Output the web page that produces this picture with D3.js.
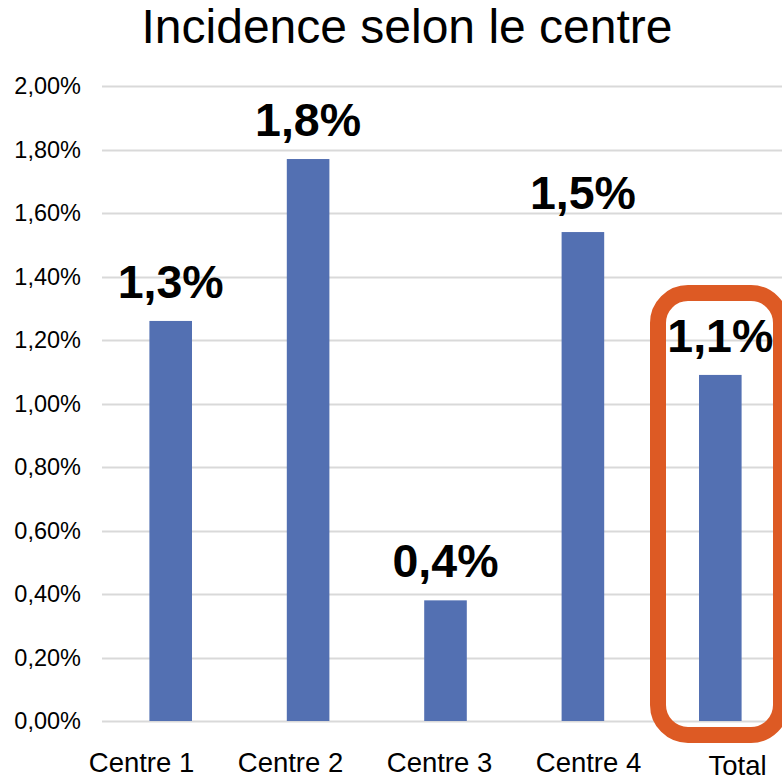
<!DOCTYPE html>
<html>
<head>
<meta charset="utf-8">
<script src="https://cdn.jsdelivr.net/npm/d3@7"></script>
<style>
  body { margin: 0; background: #fff; }
  svg { display: block; font-family: "Liberation Sans", Arial, sans-serif; }
</style>
</head>
<body>
<svg id="chart" width="782" height="777"></svg>
<script>
var categories = ["Centre 1", "Centre 2", "Centre 3", "Centre 4", "Total"];
var values = [1.26, 1.77, 0.38, 1.54, 1.09];
var labels = ["1,3%", "1,8%", "0,4%", "1,5%", "1,1%"];
var yTicks = [0, 0.2, 0.4, 0.6, 0.8, 1.0, 1.2, 1.4, 1.6, 1.8, 2.0];

var svg = d3.select("#chart");
var plotLeft = 102, plotRight = 789, plotTop = 86, plotBottom = 721;

var x = d3.scaleBand().domain(categories).range([plotLeft, plotRight]).paddingInner(0.69).paddingOuter(0.345);
var y = d3.scaleLinear().domain([0, 2]).range([plotBottom, plotTop]);
// category captions sit in their own evenly spaced boxes, not under the bars
var xLabel = d3.scalePoint().domain(categories).range([141, 737]);

var fmt = function(v) { return v.toFixed(2).replace(".", ",") + "%"; };

// title
svg.append("text")
  .attr("x", 407).attr("y", 43)
  .attr("text-anchor", "middle")
  .attr("font-size", 48)
  .attr("fill", "#000")
  .text("Incidence selon le centre");

// grid
svg.append("g").selectAll("line").data(yTicks).enter().append("line")
  .attr("x1", plotLeft).attr("x2", 782)
  .attr("y1", function(d) { return Math.round(y(d)) + 0.5; })
  .attr("y2", function(d) { return Math.round(y(d)) + 0.5; })
  .attr("stroke", "#d9d9d9").attr("stroke-width", 2);

// y axis
var yAxis = d3.axisLeft(y).tickValues(yTicks).tickFormat(fmt).tickSize(0).tickPadding(0);
var ya = svg.append("g").attr("transform", "translate(81,0)").call(yAxis);
ya.select(".domain").remove();
ya.selectAll("text").attr("font-size", 23.5).attr("fill", "#000").attr("font-family", null);

// bars
svg.append("g").selectAll("rect").data(values).enter().append("rect")
  .attr("x", function(d, i) { return x(categories[i]); })
  .attr("width", x.bandwidth())
  .attr("y", function(d) { return y(d); })
  .attr("height", function(d) { return y(0) - y(d); })
  .attr("fill", "#5370b2");

// value labels
svg.append("g").selectAll("text").data(values).enter().append("text")
  .attr("x", function(d, i) { return x(categories[i]) + x.bandwidth() / 2; })
  .attr("y", function(d) { return y(d) - 23; })
  .attr("text-anchor", "middle")
  .attr("font-size", 46.5).attr("font-weight", "bold")
  .attr("fill", "#000")
  .text(function(d, i) { return labels[i]; });

// x axis labels
var xAxis = d3.axisBottom(xLabel).tickSize(0).tickPadding(0);
var xa = svg.append("g").attr("transform", "translate(0,752)").call(xAxis);
xa.select(".domain").remove();
xa.selectAll("text").attr("font-size", 27.5).attr("fill", "#000").attr("font-family", null)
  .attr("dy", function(d) { return d === "Total" ? "0.82em" : "0.71em"; });

// highlight box around Total
var tx = x("Total");
svg.append("rect")
  .attr("x", tx - 41).attr("y", 293)
  .attr("width", 123).attr("height", 442)
  .attr("rx", 30).attr("ry", 30)
  .attr("fill", "none")
  .attr("stroke", "#dd5a24").attr("stroke-width", 16);
</script>
</body>
</html>
